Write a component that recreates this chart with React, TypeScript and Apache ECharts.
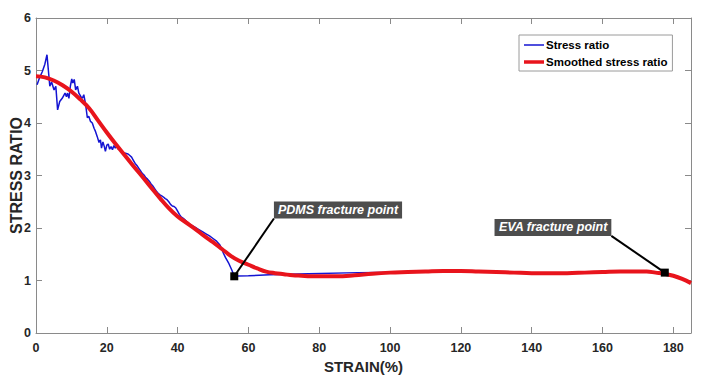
import React, { useEffect, useRef } from "react";
import * as echarts from "echarts";

// Raw stress ratio (blue)
const rawStrain = [
  0.3, 1.0, 1.8, 2.5, 3.1, 3.9, 4.4, 5.1, 5.6, 6.1, 6.7, 7.4, 8.2, 8.6, 8.9, 9.3, 9.7,
  10.1, 10.4, 10.8, 11.2, 11.7, 12.1, 12.7, 13.1, 13.5, 14.0, 14.5, 14.9, 15.4, 15.9,
  16.4, 16.8, 17.3, 17.8, 18.2, 18.5, 18.9, 19.3, 19.6, 20.0, 20.4, 20.8, 21.2, 21.6,
  22.0, 22.4, 22.8, 23.2, 23.6, 24.0, 24.5, 25.0, 25.5, 26.0, 26.5, 27.0, 27.5, 28.0,
  28.5, 29.0, 29.5, 30.0, 30.5, 31.0, 31.5, 32.0, 32.5, 33.0, 33.5, 34.0, 34.5, 35.0,
  35.5, 36.0, 36.5, 37.0, 37.5, 38.0, 38.5, 39.0, 39.5, 40.0, 40.5, 41.0, 41.5, 42.0,
  43.0, 44.0, 45.0, 46.0, 47.0, 48.0, 49.0, 50.0, 51.0, 52.0, 53.0, 53.5, 54.5, 55.3,
  56.0, 57.0, 60.0, 66.0, 77.0, 91.0, 102.0, 110.0, 120.0, 125.0, 130.0, 140.0, 150.0,
  160.0, 170.0, 175.0, 177.6,
];
const rawStress = [
  4.73, 4.86, 4.98, 5.12, 5.30, 4.70, 4.78, 4.63, 4.70, 4.25, 4.41, 4.47, 4.57, 4.50, 4.57,
  4.47, 4.70, 4.84, 4.76, 4.83, 4.63, 4.70, 4.57, 4.50, 4.47, 4.54, 4.36, 4.10, 4.13, 4.03,
  4.00, 3.90, 3.84, 3.74, 3.63, 3.68, 3.52, 3.64, 3.55, 3.46, 3.58, 3.60, 3.50, 3.55, 3.49,
  3.57, 3.52, 3.56, 3.50, 3.53, 3.46, 3.44, 3.43, 3.42, 3.41, 3.38, 3.35, 3.29, 3.23,
  3.19, 3.14, 3.09, 3.04, 3.01, 2.96, 2.93, 2.89, 2.84, 2.80, 2.75, 2.70, 2.66, 2.63,
  2.61, 2.59, 2.56, 2.54, 2.50, 2.45, 2.42, 2.41, 2.38, 2.32, 2.26, 2.21, 2.19, 2.16,
  2.09, 2.05, 2.01, 1.97, 1.93, 1.89, 1.85, 1.80, 1.75, 1.67, 1.51, 1.44, 1.32, 1.20,
  1.08, 1.085, 1.09, 1.11, 1.13, 1.15, 1.155, 1.165, 1.175, 1.17, 1.165, 1.145, 1.145,
  1.16, 1.17, 1.15, 1.14,
];

// Smoothed stress ratio (red)
const smoothStrain = [
  0, 2.5, 5, 7.5, 10, 12.5, 15, 17.5, 20, 22.5, 25, 27.5, 30, 32.5, 35, 37.5, 40, 42.5,
  45, 47.5, 50, 52.5, 55, 57.5, 60, 62.5, 65, 67.5, 70, 72.5, 75, 77.5, 80, 85, 90, 95,
  100, 105, 110, 115, 120, 125, 130, 135, 140, 145, 150, 155, 160, 165, 170, 172.5, 175,
  177.5, 180, 182.5, 185,
];
const smoothStress = [
  4.89, 4.87, 4.81, 4.72, 4.6, 4.45, 4.28, 4.05, 3.82, 3.6, 3.39, 3.18, 2.98, 2.77, 2.57,
  2.38, 2.22, 2.1, 1.98, 1.85, 1.73, 1.6, 1.47, 1.37, 1.3, 1.23, 1.17, 1.14, 1.12, 1.1,
  1.09, 1.08, 1.08, 1.08, 1.1, 1.13, 1.15, 1.16, 1.17, 1.18, 1.18, 1.17, 1.16, 1.15, 1.14,
  1.14, 1.14, 1.15, 1.16, 1.17, 1.17, 1.17, 1.15, 1.13, 1.09, 1.03, 0.95,
];

// Annotations
const annotationLabels = ["PDMS fracture point", "EVA fracture point"];
const annotationStrain = [56.0, 177.6];
const annotationStress = [1.08, 1.15];
const annotationAnchorStrain = [67.2, 162.5];
const annotationAnchorStress = [2.18, 1.85];
const annotationAlign = ["left", "right"];

const seriesNames = ["Stress ratio", "Smoothed stress ratio"];
const xAxisTitle = "STRAIN(%)";
const yAxisTitle = "STRESS RATIO";

const FONT = "'Liberation Sans', Arial, sans-serif";
const AXIS_GRAY = "#8a8a8a";
const TEXT_DARK = "#262626";
const BLUE = "#1414d2";
const RED = "#e8141c";

export default function App() {
  const ref = useRef<HTMLDivElement>(null);

  useEffect(() => {
    if (!ref.current) return;
    const chart = echarts.init(ref.current, undefined, { renderer: "svg" });

    const rawData = rawStrain.map((x, i) => [x, rawStress[i]]);
    const smoothData = smoothStrain.map((x, i) => [x, smoothStress[i]]);
    const annData = annotationLabels.map((_, i) => [
      annotationStrain[i],
      annotationStress[i],
      annotationAnchorStrain[i],
      annotationAnchorStress[i],
    ]);

    const xBase = {
      type: "value" as const,
      min: 0,
      max: 185,
      interval: 20,
      splitLine: { show: false },
      axisLine: { show: true, onZero: false, lineStyle: { color: AXIS_GRAY, width: 1 } },
      axisTick: { show: true, inside: true, length: 6, lineStyle: { color: AXIS_GRAY } },
    };
    const yBase = {
      type: "value" as const,
      min: 0,
      max: 6,
      interval: 1,
      splitLine: { show: false },
      axisLine: { show: true, onZero: false, lineStyle: { color: AXIS_GRAY, width: 1 } },
      axisTick: { show: true, inside: true, length: 6, lineStyle: { color: AXIS_GRAY } },
    };

    chart.setOption({
      animation: false,
      backgroundColor: "#ffffff",
      grid: {
        left: 36,
        right: 22,
        top: 18,
        bottom: 53,
        containLabel: false,
        outerBoundsMode: "none",
      },
      legend: {
        data: [
          { name: seriesNames[0], icon: "path://M0,0H20V1.5H0Z" },
          { name: seriesNames[1], icon: "path://M0,0H20V3.5H0Z" },
        ],
        orient: "vertical",
        left: 519,
        top: 35,
        itemWidth: 20,
        itemHeight: 4,
        itemGap: 5,
        padding: [4, 5, 3, 5],
        borderColor: "#9a9a9a",
        borderWidth: 1,
        backgroundColor: "#ffffff",
        textStyle: { fontFamily: FONT, fontWeight: "bold", fontSize: 11.5, color: "#000", padding: [0, 0, 0, -3] },
      },
      xAxis: [
        {
          ...xBase,
          position: "bottom",
          name: xAxisTitle,
          nameLocation: "middle",
          nameGap: 26,
          nameTextStyle: { fontFamily: FONT, fontWeight: "bold", fontSize: 15, color: TEXT_DARK },
          axisLabel: {
            show: true,
            showMaxLabel: false,
            margin: 8,
            fontFamily: FONT,
            fontWeight: "bold",
            fontSize: 12.5,
            color: TEXT_DARK,
          },
        },
        {
          ...xBase,
          position: "top",
          axisLabel: { show: false },
        },
      ],
      yAxis: [
        {
          ...yBase,
          position: "left",
          name: yAxisTitle,
          nameLocation: "middle",
          nameGap: 12,
          nameMoveOverlap: false,
          nameTextStyle: { fontFamily: FONT, fontWeight: "bold", fontSize: 16, color: TEXT_DARK },
          axisLabel: {
            show: true,
            margin: 5,
            fontFamily: FONT,
            fontWeight: "bold",
            fontSize: 12.5,
            color: TEXT_DARK,
          },
        },
        {
          ...yBase,
          position: "right",
          axisLabel: { show: false },
        },
      ],
      series: [
        {
          name: seriesNames[0],
          type: "line",
          data: rawData,
          symbol: "none",
          lineStyle: { color: BLUE, width: 1.5 },
          itemStyle: { color: BLUE },
          z: 2,
        },
        {
          name: seriesNames[1],
          type: "line",
          data: smoothData,
          symbol: "none",
          smooth: 0.4,
          lineStyle: { color: RED, width: 4 },
          itemStyle: { color: RED },
          z: 3,
        },
        {
          name: "annotations",
          type: "custom",
          data: annData,
          clip: false,
          z: 5,
          renderItem: (params: any, api: any) => {
            const i = params.dataIndex;
            const p = api.coord([api.value(0), api.value(1)]);
            const a = api.coord([api.value(2), api.value(3)]);
            return {
              type: "group",
              children: [
                {
                  type: "line",
                  shape: { x1: a[0], y1: a[1], x2: p[0], y2: p[1] },
                  style: { stroke: "#000", lineWidth: 2 },
                },
                {
                  type: "rect",
                  shape: { x: p[0] - 4, y: p[1] - 4, width: 8, height: 8 },
                  style: { fill: "#000" },
                },
                {
                  type: "text",
                  x: a[0],
                  y: a[1],
                  style: {
                    text: annotationLabels[i],
                    fill: "#ffffff",
                    font: `italic bold 12.5px ${FONT}`,
                    backgroundColor: "#4d4d4d",
                    padding: [2, 4, 2, 4],
                    align: annotationAlign[i],
                    verticalAlign: "bottom",
                  },
                },
              ],
            };
          },
        },
      ],
    });

    return () => chart.dispose();
  }, []);

  return (
    <div
      ref={ref}
      style={{ position: "fixed", left: 0, top: 0, width: 713, height: 386 }}
    />
  );
}
